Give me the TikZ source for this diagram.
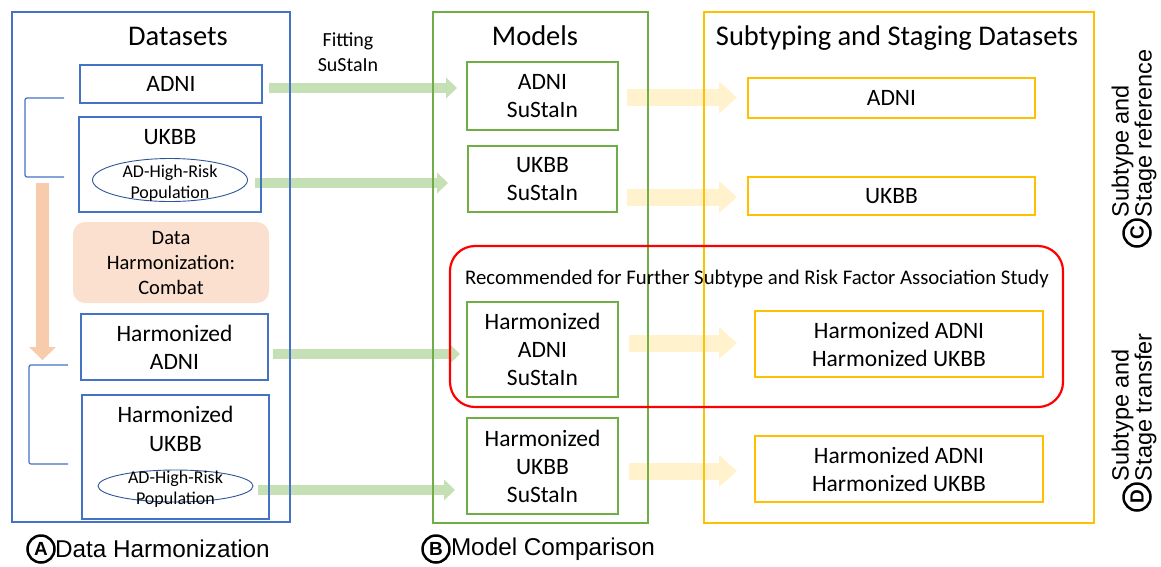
\documentclass[tikz,border=0pt]{standalone}
\usepackage{fontspec}
\setmainfont{Carlito}
\newfontfamily\arialf{Liberation Sans}
\usetikzlibrary{arrows.meta,shapes.geometric,calc}
\pgfdeclarelayer{bg}
\pgfsetlayers{bg,main}
\definecolor{cblue}{HTML}{4472C4}
\definecolor{cdblue}{HTML}{2F5597}
\definecolor{cgreen}{HTML}{70AD47}
\definecolor{cyellow}{HTML}{FFC000}
\definecolor{cred}{HTML}{FF0000}
\definecolor{cgarrow}{HTML}{C5E0B4}
\definecolor{cyarrow}{HTML}{FFF2CC}
\definecolor{coarrow}{HTML}{F8CBAD}
\definecolor{cpeach}{HTML}{FBE0D0}
\begin{document}
\begin{tikzpicture}[x=1pt,y=-1pt,
  every node/.style={inner sep=0pt, outer sep=0pt},
  box/.style={draw, line width=1.1pt, align=center, font=\fontsize{23.5}{28}\selectfont},
  bbox/.style={box, draw=cblue},
  gbox/.style={box, draw=cgreen},
  ybox/.style={box, draw=cyellow},
  txt/.style={align=center, font=\fontsize{23.5}{28.5}\selectfont},
  ttl/.style={font=\fontsize{28.5}{30}\selectfont},
  ell/.style={ellipse, draw=cdblue, line width=0.9pt},
  etxt/.style={align=center, font=\fontsize{18}{21}\selectfont},
  garrow/.style={line width=10pt, draw=cgarrow, -{Triangle[length=11pt,width=21pt,line width=0pt]}},
  yarrow/.style={line width=17pt, draw=cyarrow, -{Triangle[length=18pt,width=32pt,line width=0pt]}},
  oarrow/.style={line width=13pt, draw=coarrow, -{Triangle[length=13pt,width=27pt,line width=0pt]}},
  circ/.style={circle, draw, line width=2.5pt, minimum size=27pt, font=\arialf\bfseries\fontsize{19}{19}\selectfont},
  lbl/.style={font=\arialf\fontsize{24.3}{24}\selectfont},
  rlbl/.style={align=left, font=\arialf\fontsize{23.5}{23}\selectfont},
]
\useasboundingbox (0,0) rectangle (1161,566);

% ---------- A: Datasets ----------
\node[bbox, minimum width=278pt, minimum height=510pt] (dsframe) at (151,267) {};
\node[ttl] (dstitle) at (178,36) {Datasets};
\node[bbox, minimum width=182pt, minimum height=38pt] (adni) at (171,84) {ADNI};
\node[bbox, minimum width=182pt, minimum height=95pt] (ukbb) at (170,164.5) {};
\node[txt] (ukbbt) at (170,137) {UKBB};
\node[ell, minimum width=155pt, minimum height=43pt] (e1) at (170,180) {};
\node[etxt] (e1t) at (170,183) {AD-High-Risk\\Population};
\node[fill=cpeach, rounded corners=12pt, minimum width=196pt, minimum height=81pt,
      align=center, font=\fontsize{20.5}{25}\selectfont] (harm) at (171,262.5) {Data\\Harmonization:\\Combat};
\node[bbox, minimum width=187pt, minimum height=66pt] (hadni) at (174.5,347) {Harmonized\\ADNI};
\node[bbox, minimum width=187pt, minimum height=124pt] (hukbb) at (175.5,457) {};
\node[txt] (hukbbt) at (175.5,429) {Harmonized\\UKBB};
\node[ell, minimum width=155pt, minimum height=32pt] (e2) at (175.5,486) {};
\node[etxt] (e2t) at (175.5,489) {AD-High-Risk\\Population};

\coordinate (b1t) at (64,98);
\coordinate (b1b) at (64,177);
\coordinate (b2t) at (68,365);
\coordinate (b2b) at (68,464);
\draw[cblue, line width=1.2pt, rounded corners=2pt] (b1t) -- (25,98) -- (25,177) -- (b1b);
\draw[cblue, line width=1.2pt, rounded corners=2pt] (b2t) -- (29,365) -- (29,464) -- (b2b);

\node[align=center, font=\fontsize{20}{25}\selectfont] (fit) at (348,52) {Fitting\\SuStaIn};

% ---------- B: Models ----------
\node[gbox, minimum width=215pt, minimum height=511pt] (mdframe) at (540.5,267.5) {};
\node[ttl] (mdtitle) at (535,36) {Models};
\node[gbox, minimum width=151pt, minimum height=68pt] (msA) at (542.5,96) {ADNI\\SuStaIn};
\node[gbox, minimum width=149pt, minimum height=66pt] (msU) at (542.5,179) {UKBB\\SuStaIn};
\node[gbox, minimum width=151pt, minimum height=95pt] (msHA) at (542.5,349.5) {Harmonized\\ADNI\\SuStaIn};
\node[gbox, minimum width=151pt, minimum height=96pt] (msHU) at (542.5,466) {Harmonized\\UKBB\\SuStaIn};

% ---------- C/D: Subtyping ----------
\node[ybox, minimum width=390pt, minimum height=511pt] (sframe) at (899,267.5) {};
\node[ttl] (stitle) at (897,38) {Subtyping and Staging Datasets};
\node[ybox, minimum width=287pt, minimum height=40pt] (sA) at (891.5,98) {ADNI};
\node[ybox, minimum width=287pt, minimum height=38pt] (sU) at (891.5,196) {UKBB};
\node[ybox, minimum width=288pt, minimum height=66pt] (sHA) at (899,344) {Harmonized ADNI\\Harmonized UKBB};
\node[ybox, minimum width=288pt, minimum height=66pt] (sHU) at (899,469) {Harmonized ADNI\\Harmonized UKBB};

% ---------- Recommended ----------
\node[draw=cred, line width=2.2pt, rounded corners=25pt, minimum width=613pt, minimum height=161pt] (rec) at (756.5,326.5) {};
\node[font=\fontsize{20.8}{24}\selectfont] (rect) at (757,279) {Recommended for Further Subtype and Risk Factor Association Study};

% ---------- labels ----------
\node[circ] (cA) at (41,549) {A};
\node[lbl, anchor=west] (lA) at (55,549) {Data Harmonization};
\node[circ] (cB) at (436,549) {B};
\node[lbl, anchor=west] (lB) at (451,549) {Model Comparison};
\node[circ, rotate=90] (cC) at (1137,233) {C};
\node[rlbl, rotate=90, anchor=west] (lC) at (1134,217) {Subtype and\\Stage reference};
\node[circ, rotate=90] (cD) at (1137,497) {D};
\node[rlbl, rotate=90, anchor=west] (lD) at (1134,481) {Subtype and\\Stage transfer};

% ---------- arrows (behind) ----------
\begin{pgfonlayer}{bg}
\draw[garrow] ($(adni.east)+(7,4)$) -- ($(msA.west)+(-10,-8)$);
\draw[garrow] ($(e1.east)+(7.5,3)$) -- ($(msU.west)+(-20,4)$);
\draw[garrow] ($(hadni.east)+(5,7)$) -- ($(msHA.west)+(-7,4.5)$);
\draw[garrow] ($(e2.east)+(5,4)$) -- ($(msHU.west)+(-12,24)$);
\draw[yarrow] ($(msA.east)+(9,1.5)$) -- ($(sA.west)+(-11,-0.5)$);
\draw[yarrow] ($(msU.east)+(10,18)$) -- ($(sU.west)+(-11,1)$);
\draw[yarrow] ($(msHA.east)+(11,-6.5)$) -- ($(sHA.west)+(-18,-1)$);
\draw[yarrow] ($(msHU.east)+(11,5)$) -- ($(sHU.west)+(-18,2)$);
\draw[oarrow] ($(b1b)+(-21.5,6)$) -- ($(b2t)+(-25.5,-5)$);
\end{pgfonlayer}
\end{tikzpicture}
\end{document}
